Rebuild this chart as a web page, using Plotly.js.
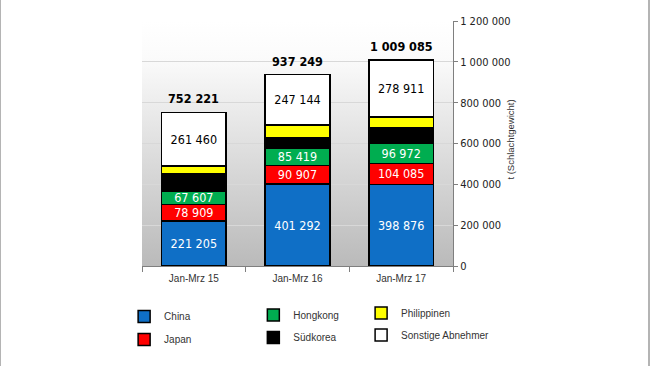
<!DOCTYPE html>
<html>
<head>
<meta charset="utf-8">
<script src="https://cdn.plot.ly/plotly-3.0.1.min.js"></script>
<style>
  html, body { margin: 0; padding: 0; background: #fff; }
  #chart { width: 647px; height: 366px; border-left: 1px solid #b4b4b4; border-right: 2px solid #b4b4b4; }
</style>
</head>
<body>
<div id="chart"></div>
<script>
const categories = ['Jan-Mrz 15', 'Jan-Mrz 16', 'Jan-Mrz 17'];
const china = [221205, 401292, 398876];
const japan = [78909, 90907, 104085];
const hongkong = [67607, 85419, 96972];
const suedkorea = [82000, 52000, 75000];
const philippinen = [41040, 60487, 55241];
const sonstige = [261460, 247144, 278911];
const totals = [752221, 937249, 1009085];
const yTicks = [0, 200000, 400000, 600000, 800000, 1000000, 1200000];
const yTitle = 't (Schlachtgewicht)';

const narrow = '"Liberation Sans Narrow", "DejaVu Sans Condensed", Arial, sans-serif';
const sans = '"Liberation Sans", Arial, sans-serif';

function fmt(n) { return String(n).replace(/\B(?=(\d{3})+(?!\d))/g, ' '); }

function series(name, y, color, legendId, showText, textColor) {
  return {
    type: 'bar', name: name, x: categories, y: y,
    legend: legendId,
    marker: { color: color, line: { color: '#000', width: 1.5 } },
    text: showText ? y.map(fmt) : undefined,
    texttemplate: showText ? '%{text}' : '',
    textposition: showText ? 'inside' : 'none',
    insidetextanchor: 'middle',
    textangle: 0,
    constraintext: 'none',
    textfont: { family: narrow, size: 12.5, color: textColor },
    hoverinfo: 'skip'
  };
}

const traces = [
  series('China', china, '#0f6fc6', 'legend', true, '#ffffff'),
  series('Japan', japan, '#ff0000', 'legend2', true, '#ffffff'),
  series('Hongkong', hongkong, '#00ad50', 'legend3', true, '#ffffff'),
  series('Südkorea', suedkorea, '#000000', 'legend4', false, '#000'),
  series('Philippinen', philippinen, '#ffff00', 'legend5', false, '#000'),
  series('Sonstige Abnehmer', sonstige, '#ffffff', 'legend6', true, '#000000')
];

const legFont = { family: sans, size: 10, color: '#333333' };
function leg(x, y) {
  return { x: x, y: y, xanchor: 'left', yanchor: 'middle', orientation: 'v',
           bgcolor: 'rgba(0,0,0,0)', borderwidth: 0, font: legFont };
}

const gradSvg = "<svg xmlns='http://www.w3.org/2000/svg' width='10' height='100' preserveAspectRatio='none'>" +
  "<defs><linearGradient id='g' x1='0' y1='0' x2='0' y2='1'>" +
  "<stop offset='0' stop-color='#ffffff'/><stop offset='0.15' stop-color='#fbfbfb'/><stop offset='1' stop-color='#bababa'/>" +
  "</linearGradient></defs><rect width='10' height='100' fill='url(#g)'/></svg>";

const layout = {
  width: 647, height: 366,
  margin: { l: 141, r: 195, t: 21, b: 100 },
  paper_bgcolor: '#ffffff',
  plot_bgcolor: 'rgba(0,0,0,0)',
  barmode: 'stack',
  bargap: 0.375,
  separators: ', ',
  showlegend: true,
  images: [{
    source: 'data:image/svg+xml;charset=utf-8,' + encodeURIComponent(gradSvg),
    xref: 'paper', yref: 'paper', x: 0, y: 1, sizex: 1, sizey: 1,
    xanchor: 'left', yanchor: 'top', sizing: 'stretch', layer: 'below'
  }],
  xaxis: {
    type: 'category',
    showline: true, linecolor: '#7f7f7f', linewidth: 1,
    ticks: 'outside', tickson: 'boundaries', ticklen: 5, tickcolor: '#7f7f7f',
    ticklabelstandoff: 3,
    tickfont: { family: sans, size: 10, color: '#333333' },
    showgrid: false, zeroline: false
  },
  yaxis: {
    side: 'right',
    range: [0, 1200000],
    tickvals: yTicks,
    ticktext: yTicks.map(fmt),
    showline: true, linecolor: '#7f7f7f', linewidth: 1,
    ticks: 'outside', ticklen: 4, tickcolor: '#7f7f7f',
    tickfont: { family: narrow, size: 11, color: '#222222' },
    showgrid: true, gridcolor: '#d8d8d8', gridwidth: 1,
    zeroline: false
  },
  annotations: categories.map((c, i) => ({
    x: c, y: totals[i], xref: 'x', yref: 'y',
    text: '<b>' + fmt(totals[i]) + '</b>',
    showarrow: false, yanchor: 'bottom', yshift: 4,
    font: { family: narrow, size: 12.5, color: '#000000' }
  })).concat([{
    xref: 'paper', yref: 'paper', x: 1.185, y: 0.514,
    text: yTitle, textangle: -90, showarrow: false,
    xanchor: 'center', yanchor: 'middle',
    font: { family: sans, size: 9.5, color: '#333333' }
  }]),
  legend: leg(-0.0575, -0.206),
  legend2: leg(-0.0575, -0.300),
  legend3: leg(0.358, -0.200),
  legend4: leg(0.358, -0.292),
  legend5: leg(0.7045, -0.192),
  legend6: leg(0.7045, -0.282)
};

Plotly.newPlot('chart', traces, layout, { displayModeBar: false, staticPlot: true });
</script>
</body>
</html>
